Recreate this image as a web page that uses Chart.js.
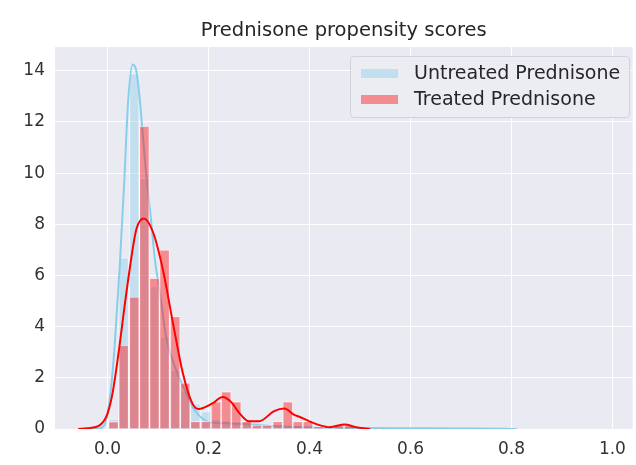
<!DOCTYPE html>
<html>
<head>
<meta charset="utf-8">
<script src="https://cdn.jsdelivr.net/npm/chart.js@4.4.1/dist/chart.umd.min.js"></script>
<style>
  html, body { margin: 0; padding: 0; background: #fff; }
  #wrap { position: relative; width: 636px; height: 465px; }
  #legend {
    position: absolute; left: 350px; top: 56px; width: 278px; height: 60px;
    background: rgba(236,236,243,0.9); border: 1px solid #d2d2da; border-radius: 4px;
    font-family: "DejaVu Sans", sans-serif; font-size: 19px; color: #262626;
  }
  .item { position: absolute; left: 10px; height: 22px; line-height: 22px; white-space: nowrap; }
  .swatch { display: inline-block; width: 37px; height: 9px; vertical-align: middle; margin-right: 16px; }
</style>
</head>
<body>
<div id="wrap">
  <canvas id="chart" width="636" height="465"></canvas>
  <div id="legend">
    <div class="item" style="top:4px"><span class="swatch" style="background:#c2dfef"></span>Untreated Prednisone</div>
    <div class="item" style="top:30px"><span class="swatch" style="background:#f28c91"></span>Treated Prednisone</div>
  </div>
</div>
<script>
const chartTitle = "Prednisone propensity scores";
const xTicks = [0, 0.2, 0.4, 0.6, 0.8, 1.0];
const yTicks = [0, 2, 4, 6, 8, 10, 12, 14];

// histogram bin centres (bin width ~0.0203)
const binCenters = [0.012, 0.032, 0.053, 0.073, 0.093, 0.113, 0.134, 0.154, 0.174, 0.195,
  0.215, 0.235, 0.255, 0.276, 0.296, 0.316, 0.337, 0.357, 0.377, 0.397,
  0.418, 0.438, 0.458, 0.479, 0.499, 0.519, 0.540, 0.560, 0.580, 0.601,
  0.621, 0.641, 0.662, 0.682, 0.702, 0.722, 0.743, 0.763, 0.783, 0.804];

const untreatedHist = [0.4, 6.7, 13.9, 9.8, 5.6, 3.6, 2.3, 1.5, 1.0, 0.7,
  0.4, 0.35, 0.3, 0.3, 0.25, 0.2, 0.15, 0.15, 0.12, 0.1,
  0.08, 0.06, 0.05, 0.05, 0.04, 0.04, 0.03, 0.03, 0.03, 0.03,
  0.02, 0.02, 0.02, 0.02, 0.02, 0.02, 0.02, 0.01, 0.01, 0.01];

const treatedHist = [0.29, 3.28, 5.17, 11.84, 5.9, 7.0, 4.4, 1.8, 0.3, 0.3,
  1.07, 1.46, 1.07, 0.3, 0.15, 0.15, 0.3, 1.07, 0.3, 0.3,
  0.1, 0, 0.15, 0.15];

const untreatedKdeX = [-0.03, -0.015, -0.005, 0.0, 0.007, 0.014, 0.024, 0.033, 0.041, 0.05,
  0.057, 0.064, 0.075, 0.086, 0.094, 0.104, 0.116, 0.136, 0.156, 0.172,
  0.192, 0.212, 0.24, 0.27, 0.3, 0.35, 0.4, 0.5, 0.6, 0.7, 0.78, 0.81];
const untreatedKdeY = [0, 0.03, 0.2, 0.6, 1.6, 3.2, 6.3, 9.6, 12.85, 14.25,
  14.0, 12.85, 10.3, 8.2, 6.6, 5.3, 3.6, 2.3, 1.4, 0.74,
  0.35, 0.24, 0.22, 0.2, 0.15, 0.1, 0.07, 0.04, 0.03, 0.02, 0.01, 0];

const treatedKdeX = [-0.058, -0.04, -0.015, 0.0, 0.01, 0.02, 0.04, 0.057, 0.072, 0.09,
  0.11, 0.13, 0.149, 0.168, 0.18, 0.208, 0.228, 0.245, 0.262, 0.28,
  0.3, 0.33, 0.35, 0.37, 0.38, 0.4, 0.42, 0.44, 0.47, 0.49, 0.52];
const treatedKdeY = [0, 0.03, 0.15, 0.6, 1.4, 2.7, 5.7, 7.8, 8.23, 7.7,
  6.2, 4.1, 2.2, 1.0, 0.78, 1.0, 1.25, 1.05, 0.6, 0.3,
  0.3, 0.7, 0.8, 0.55, 0.48, 0.3, 0.15, 0.07, 0.18, 0.08, 0];

const toPoints = (xs, ys) => xs.map((x, i) => ({ x, y: ys[i] }));

const plotBg = {
  id: "plotBg",
  beforeDraw(chart) {
    const { ctx, chartArea: a } = chart;
    ctx.save();
    ctx.fillStyle = "#eaeaf2";
    ctx.fillRect(a.left, a.top, a.right - a.left, a.bottom - a.top);
    ctx.restore();
  },
  afterDraw(chart) {
    // title centred over the plot area, like matplotlib does
    const { ctx, chartArea: a } = chart;
    ctx.save();
    ctx.fillStyle = "#262626";
    ctx.font = "19.5px 'DejaVu Sans'";
    ctx.textAlign = "center";
    ctx.textBaseline = "middle";
    ctx.fillText(chartTitle, (a.left + a.right) / 2, 31);
    ctx.restore();
  }
};

const tickFont = { family: "DejaVu Sans", size: 17 };

new Chart(document.getElementById("chart"), {
  type: "bar",
  data: {
    datasets: [
      {
        label: "Untreated Prednisone",
        data: toPoints(binCenters, untreatedHist),
        backgroundColor: "rgba(135,206,235,0.4)",
        borderColor: "rgba(255,255,255,0.5)",
        borderWidth: 1,
        grouped: false,
        barPercentage: 1,
        categoryPercentage: 1,
        order: 4,
      },
      {
        type: "line",
        label: "untreated kde",
        data: toPoints(untreatedKdeX, untreatedKdeY),
        borderColor: "#87ceeb",
        borderWidth: 2,
        pointRadius: 0,
        cubicInterpolationMode: "monotone",
        order: 3,
      },
      {
        label: "Treated Prednisone",
        data: toPoints(binCenters.slice(0, treatedHist.length), treatedHist),
        backgroundColor: "rgba(255,0,0,0.4)",
        borderColor: "rgba(255,255,255,0.5)",
        borderWidth: 1,
        grouped: false,
        barPercentage: 1,
        categoryPercentage: 1,
        order: 2,
      },
      {
        type: "line",
        label: "treated kde",
        data: toPoints(treatedKdeX, treatedKdeY),
        borderColor: "#ff0000",
        borderWidth: 2,
        pointRadius: 0,
        cubicInterpolationMode: "monotone",
        order: 1,
      },
    ]
  },
  options: {
    responsive: false,
    animation: false,
    layout: { autoPadding: false, padding: { left: 0, right: 2, top: 47, bottom: 0 } },
    plugins: {
      legend: { display: false },
      tooltip: { enabled: false },
      title: { display: false },
    },
    scales: {
      x: {
        type: "linear",
        offset: false,
        min: -0.104,
        max: 1.04,
        afterBuildTicks: s => { s.ticks = xTicks.map(v => ({ value: v })); },
        afterFit: s => { s.height = 36; },
        ticks: { color: "#333", font: tickFont, padding: 10, callback: v => v.toFixed(1), maxRotation: 0 },
        grid: { color: "#ffffff", lineWidth: 1, drawTicks: false, offset: false },
        border: { display: false },
      },
      y: {
        min: 0,
        max: 14.93,
        afterBuildTicks: s => { s.ticks = yTicks.map(v => ({ value: v })); },
        afterFit: s => { s.width = 55; },
        ticks: { color: "#333", font: tickFont, padding: 10 },
        grid: { color: "#ffffff", lineWidth: 1, drawTicks: false },
        border: { display: false },
      }
    }
  },
  plugins: [plotBg]
});
</script>
</body>
</html>
